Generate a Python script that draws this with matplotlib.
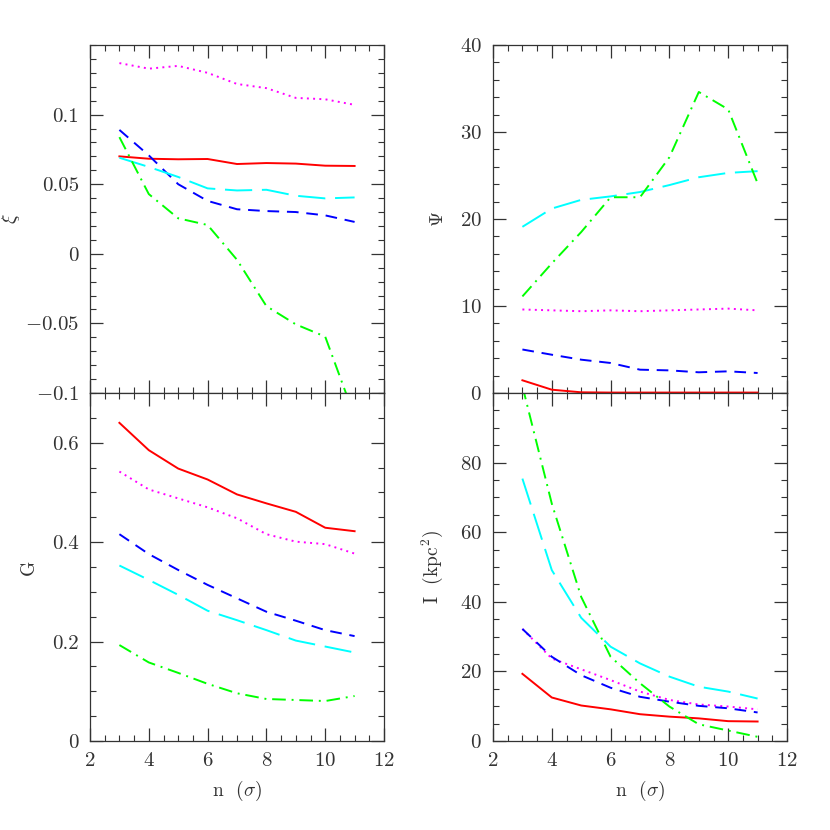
import matplotlib
matplotlib.use("Agg")
import matplotlib.pyplot as plt
from matplotlib.ticker import MultipleLocator, FixedLocator, FixedFormatter

plt.rcParams['font.family'] = ['cmr10', 'DejaVu Serif']
plt.rcParams['mathtext.fontset'] = 'cm'
plt.rcParams['axes.formatter.use_mathtext'] = True

n = [3, 4, 5, 6, 7, 8, 9, 10, 11]

# xi panel
xi_red = [0.070, 0.0683, 0.0679, 0.0681, 0.0645, 0.0652, 0.0648, 0.0633, 0.0631]
xi_mag = [0.137, 0.133, 0.135, 0.130, 0.122, 0.119, 0.112, 0.111, 0.107]
xi_blue = [0.089, 0.0707, 0.050, 0.038, 0.032, 0.0307, 0.030, 0.0276, 0.0229]
xi_cyan = [0.069, 0.0624, 0.0552, 0.047, 0.0455, 0.046, 0.0417, 0.0398, 0.0405]
xi_green = [0.0838, 0.0429, 0.0255, 0.0207, -0.0043, -0.0376, -0.0507, -0.0595, -0.117]

# Psi panel
psi_red = [1.46, 0.38, 0.08, 0.05, 0.05, 0.05, 0.05, 0.05, 0.05]
psi_mag = [9.6, 9.5, 9.4, 9.5, 9.4, 9.5, 9.6, 9.7, 9.5]
psi_blue = [5.0, 4.4, 3.83, 3.45, 2.68, 2.6, 2.38, 2.49, 2.3]
psi_cyan = [19.1, 21.2, 22.2, 22.6, 23.1, 23.9, 24.8, 25.3, 25.5]
psi_green = [11.1, 14.9, 18.5, 22.5, 22.5, 27.1, 34.6, 32.6, 24.1]

# G panel
g_red = [0.640, 0.585, 0.548, 0.526, 0.496, 0.478, 0.461, 0.429, 0.422]
g_mag = [0.542, 0.506, 0.488, 0.470, 0.448, 0.416, 0.401, 0.396, 0.377]
g_blue = [0.416, 0.376, 0.344, 0.314, 0.287, 0.260, 0.242, 0.223, 0.211]
g_cyan = [0.353, 0.324, 0.294, 0.262, 0.243, 0.223, 0.202, 0.190, 0.178]
g_green = [0.193, 0.158, 0.137, 0.115, 0.096, 0.0845, 0.0825, 0.0804, 0.0905]

# I panel
i_red = [19.3, 12.5, 10.2, 9.1, 7.7, 7.0, 6.5, 5.7, 5.6]
i_mag = [32.2, 23.7, 20.6, 17.5, 14.2, 11.8, 10.5, 9.9, 9.1]
i_blue = [32.2, 24.2, 18.9, 15.3, 12.7, 11.3, 10.1, 9.4, 8.2]
i_cyan = [75.4, 49.1, 35.4, 27.1, 22.3, 18.5, 15.6, 14.2, 12.2]
i_green = [102.0, 68.2, 41.4, 24.2, 16.6, 9.9, 4.8, 3.0, 1.2]

styles = {
    'red': dict(color='#ff0000', ls='-'),
    'mag': dict(color='#ff00ff', ls=(0, (1, 2.2))),
    'blue': dict(color='#0000ff', ls=(0, (6, 4))),
    'cyan': dict(color='#00ffff', ls=(0, (14, 5))),
    'green': dict(color='#00ff00', ls=(0, (7, 3, 1, 3))),
}

fig = plt.figure(figsize=(8.3, 8.3), dpi=100)
W = 294 / 830
H = 348 / 830
ax_xi = fig.add_axes([90 / 830, 1 - 393 / 830, W, H])
ax_psi = fig.add_axes([493 / 830, 1 - 393 / 830, W, H])
ax_g = fig.add_axes([90 / 830, 1 - 741 / 830, W, H])
ax_i = fig.add_axes([493 / 830, 1 - 741 / 830, W, H])

panels = [
    (ax_xi, [xi_red, xi_mag, xi_blue, xi_cyan, xi_green]),
    (ax_psi, [psi_red, psi_mag, psi_blue, psi_cyan, psi_green]),
    (ax_g, [g_red, g_mag, g_blue, g_cyan, g_green]),
    (ax_i, [i_red, i_mag, i_blue, i_cyan, i_green]),
]
for ax, series in panels:
    for key, ys in zip(['red', 'mag', 'blue', 'cyan', 'green'], series):
        ax.plot(n, ys, lw=1.4, **styles[key])
    ax.set_xlim(2, 12)
    ax.xaxis.set_major_locator(MultipleLocator(2))
    ax.xaxis.set_minor_locator(MultipleLocator(0.5))
    ax.tick_params(which='both', direction='in', top=True, right=True,
                   colors='#333333', labelsize=15, labelcolor='#333333')
    ax.tick_params(which='major', length=9.5, width=0.9, pad=8)
    ax.tick_params(which='minor', length=4.5, width=0.8)
    for s in ax.spines.values():
        s.set_color('#333333')
        s.set_linewidth(0.9)

ax_xi.set_ylim(-0.1, 0.15)
ax_xi.yaxis.set_major_locator(FixedLocator([-0.1, -0.05, 0, 0.05, 0.1]))
ax_xi.yaxis.set_major_formatter(FixedFormatter([r'$-$0.1', r'$-$0.05', '0', '0.05', '0.1']))
ax_xi.yaxis.set_minor_locator(MultipleLocator(0.01))

ax_psi.set_ylim(0, 40)
ax_psi.yaxis.set_major_locator(MultipleLocator(10))
ax_psi.yaxis.set_minor_locator(MultipleLocator(2))

ax_g.set_ylim(0, 0.7)
ax_g.yaxis.set_major_locator(FixedLocator([0, 0.2, 0.4, 0.6]))
ax_g.yaxis.set_major_formatter(FixedFormatter(['0', '0.2', '0.4', '0.6']))
ax_g.yaxis.set_minor_locator(MultipleLocator(0.05))

ax_i.set_ylim(0, 100)
ax_i.yaxis.set_major_locator(FixedLocator([0, 20, 40, 60, 80]))
ax_i.yaxis.set_minor_locator(MultipleLocator(5))

for ax in (ax_xi, ax_psi):
    ax.tick_params(labelbottom=False)

lab = dict(fontsize=14, color='#333333')
ax_xi.set_ylabel(r'$\xi$', **lab)
ax_xi.yaxis.set_label_coords(-0.23, 0.5)
ax_psi.set_ylabel(r'$\Psi$', **lab)
ax_psi.yaxis.set_label_coords(-0.157, 0.5)
ax_g.set_ylabel('G', **lab)
ax_g.yaxis.set_label_coords(-0.177, 0.5)
ax_i.set_ylabel(r'I  (kpc$^2$)', **lab)
ax_i.yaxis.set_label_coords(-0.164, 0.5)

for ax in (ax_g, ax_i):
    ax.set_xlabel(r'n  ($\sigma$)', labelpad=6, **lab)

fig.savefig('out.png', dpi=100)
